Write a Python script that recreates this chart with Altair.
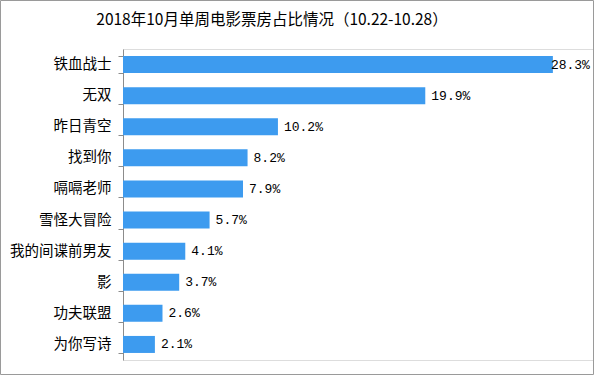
import altair as alt
import pandas as pd

title_text = "2018年10月单周电影票房占比情况（10.22-10.28）"
movies = ["铁血战士", "无双", "昨日青空", "找到你", "嗝嗝老师", "雪怪大冒险",
          "我的间谍前男友", "影", "功夫联盟", "为你写诗"]
shares = [28.3, 19.9, 10.2, 8.2, 7.9, 5.7, 4.1, 3.7, 2.6, 2.1]
labels = ["28.3%", "19.9%", "10.2%", "8.2%", "7.9%", "5.7%", "4.1%", "3.7%", "2.6%", "2.1%"]

df = pd.DataFrame({"movie": movies, "share": shares, "label": labels})

W, H = 470, 311
y_enc = alt.Y("movie:N", sort=movies, title=None,
              scale=alt.Scale(paddingInner=0.453, paddingOuter=0.2265),
              axis=alt.Axis(domainColor="#8c8c8c", tickColor="#8c8c8c", tickSize=5,
                            tickBand="extent", labelPadding=7, labelFontSize=14.5,
                            labelFont="Noto Sans CJK SC", labelColor="#000000",
                            labelLimit=200))
x_enc = alt.X("share:Q", title=None, axis=None,
              scale=alt.Scale(domain=[0, W / 15.19], nice=False, zero=True))

base = alt.Chart(df)
bars = base.mark_bar(color="#3D9BEF").encode(x=x_enc, y=y_enc)
txt_small = base.transform_filter("datum.share < 25").mark_text(
    align="left", baseline="middle", dx=6, font="Liberation Mono", fontSize=13,
    color="#000000").encode(x=x_enc, y=y_enc, text="label:N")
txt_big = base.transform_filter("datum.share >= 25").mark_text(
    align="left", baseline="middle", dx=-2, font="Liberation Mono", fontSize=13,
    color="#000000").encode(x=x_enc, y=y_enc, text="label:N")

title = alt.Chart(pd.DataFrame({"t": [title_text]})).mark_text(
    align="center", baseline="middle", font="Noto Sans CJK SC", fontSize=15.5,
    color="#000000").encode(text="t:N", x=alt.value(272 - 123), y=alt.value(20 - 49))

border = alt.Chart(pd.DataFrame({"b": [0]})).mark_rect(
    fill=None, stroke="#9a9a9a", strokeWidth=1).encode(
    x=alt.value(-122.5), x2=alt.value(470.5), y=alt.value(-48.5), y2=alt.value(325.5))

chart = alt.layer(bars, txt_small, txt_big, title, border).properties(
    width=W, height=H,
    padding={"left": 123, "top": 49, "right": 1, "bottom": 15},
    autosize=alt.AutoSizeParams(type="none"),
).configure_view(stroke=None).configure(background="#ffffff")

chart.save("out.html", embed_options={"renderer": "svg", "actions": False})
